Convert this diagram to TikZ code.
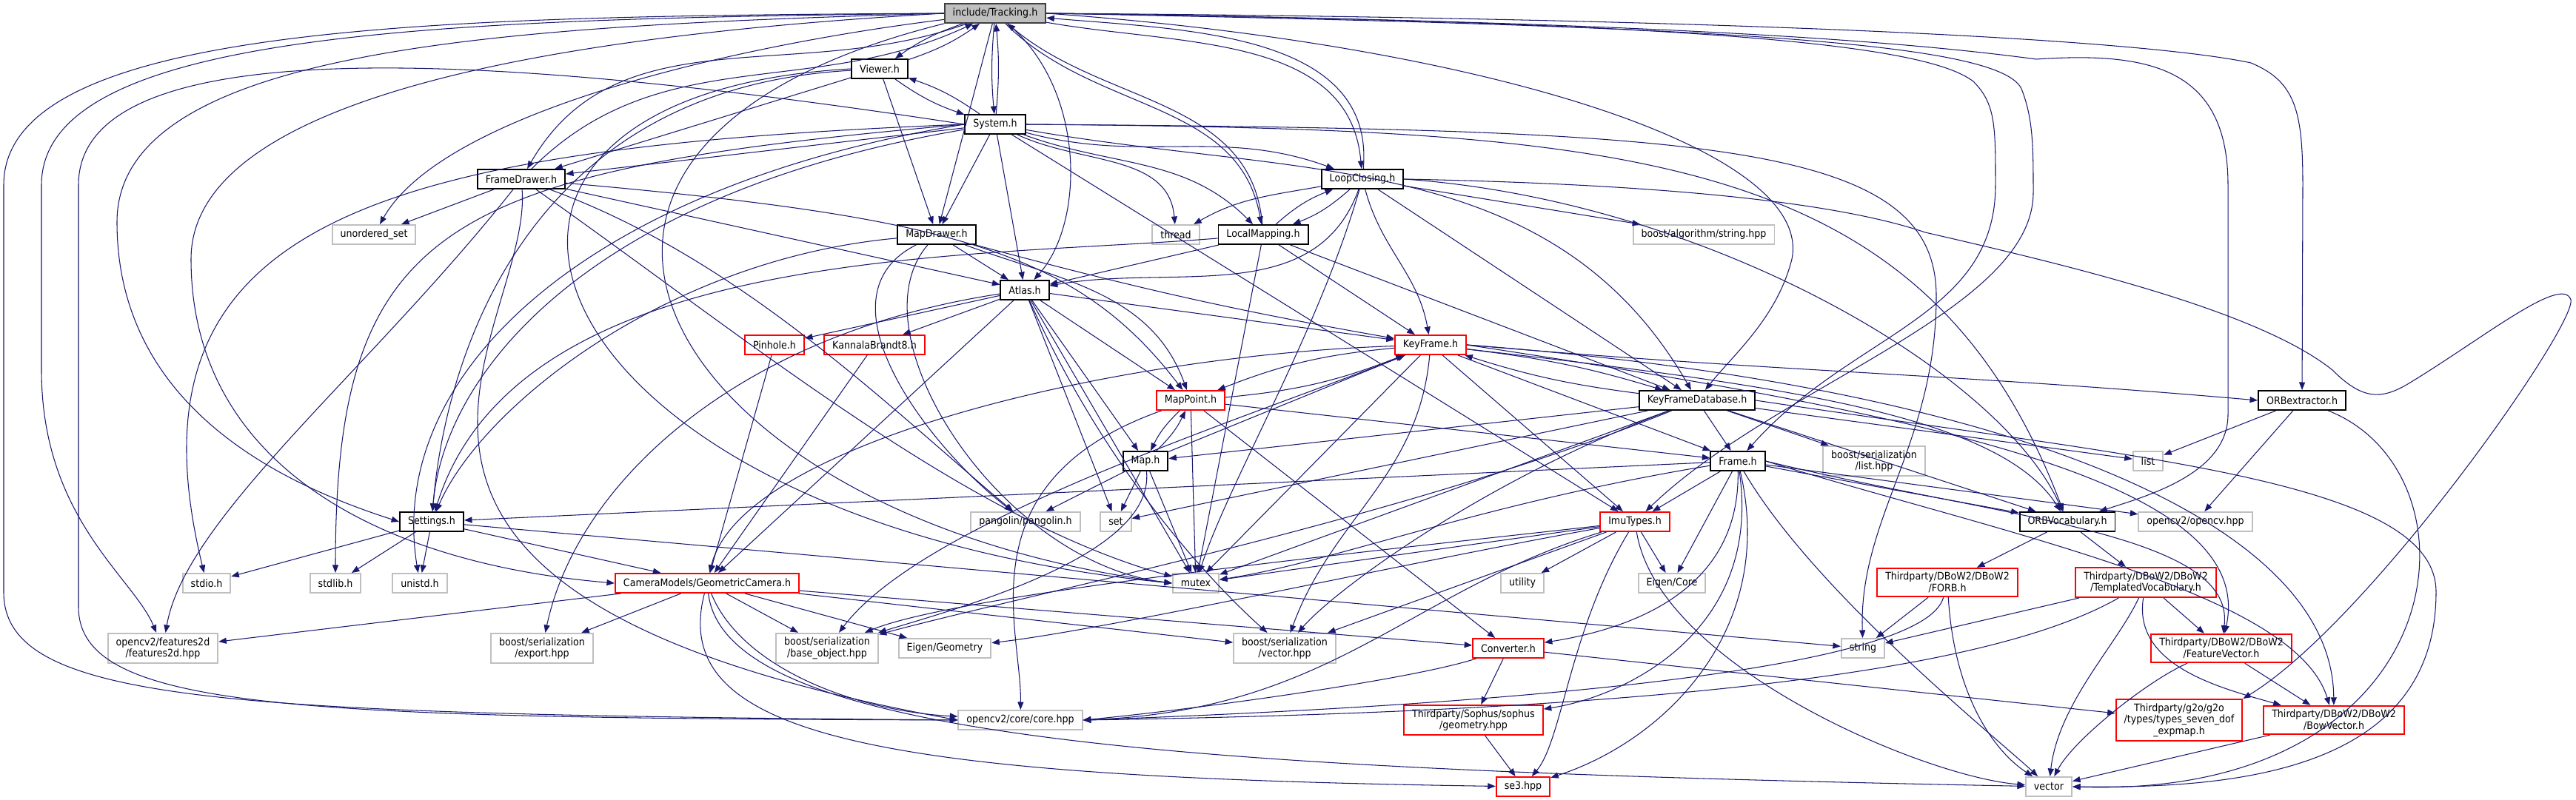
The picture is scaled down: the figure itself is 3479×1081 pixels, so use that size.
\documentclass[tikz,border=0pt]{standalone}
\usepackage{fontspec}
\setmainfont{DejaVu Sans Condensed}
\usetikzlibrary{arrows.meta}
\definecolor{ink}{RGB}{25,25,112}
\definecolor{lgray}{RGB}{191,191,191}
\definecolor{dgray}{RGB}{64,64,64}
\definecolor{tred}{RGB}{255,0,0}
\tikzset{
  hf/.style={draw=black,fill=white,line width=1.1pt,minimum height=0.52cm,inner xsep=0.22cm,inner ysep=0.11cm,align=center,font=\fontsize{8}{8.8}\selectfont},
  hroot/.style={hf,draw=dgray,fill=lgray},
  hext/.style={hf,draw=lgray},
  hred/.style={hf,draw=tred},
  inc/.style={->,draw=ink,line width=0.6pt},
}
\begin{document}
\begin{tikzpicture}[x=0.02cm,y=-0.02cm,>={Triangle[length=6pt,width=4.6pt]}]
\useasboundingbox (0,0) rectangle (3479,1081);
% files
\node[hroot] (trk) at (1344,18) {include/Tracking.h};
\node[hf] (vwr) at (1188,93) {Viewer.h};
\node[hf] (sys) at (1344,168) {System.h};
\node[hf] (fdr) at (704,242) {FrameDrawer.h};
\node[hf] (lcl) at (1840,242) {LoopClosing.h};
\node[hext] (uset) at (505,317) {unordered\_set};
\node[hf] (mdr) at (1265,317) {MapDrawer.h};
\node[hext] (thr) at (1588,317) {thread};
\node[hf] (lmp) at (1706,317) {LocalMapping.h};
\node[hext] (bstr) at (2301,317) {boost/algorithm/string.hpp};
\node[hf] (atl) at (1384,392) {Atlas.h};
\node[hred] (pin) at (1046,466) {Pinhole.h};
\node[hred] (kb8) at (1181,466) {KannalaBrandt8.h};
\node[hred] (kfr) at (1932,466) {KeyFrame.h};
\node[hred] (mpt) at (1608,541) {MapPoint.h};
\node[hf] (kdb) at (2292,541) {KeyFrameDatabase.h};
\node[hf] (orbx) at (3109,541) {ORBextractor.h};
\node[hf] (map) at (1547,623) {Map.h};
\node[hf] (frm) at (2347,623) {Frame.h};
\node[hext] (blst) at (2531,623) {boost/serialization\\/list.hpp};
\node[hext] (lst) at (2901,623) {list};
\node[hf] (stg) at (583,705) {Settings.h};
\node[hext] (pgl) at (1385,705) {pangolin/pangolin.h};
\node[hext] (sset) at (1507,705) {set};
\node[hred] (imu) at (2208,705) {ImuTypes.h};
\node[hf] (voc) at (2792,705) {ORBVocabulary.h};
\node[hext] (ocv) at (2965,705) {opencv2/opencv.hpp};
\node[hext] (sio) at (279,788) {stdio.h};
\node[hext] (slb) at (453,788) {stdlib.h};
\node[hext] (uni) at (567,788) {unistd.h};
\node[hred] (gcam) at (955,788) {CameraModels/GeometricCamera.h};
\node[hext] (mtx) at (1615,788) {mutex};
\node[hext] (utl) at (2056,788) {utility};
\node[hext] (ecore) at (2258,788) {Eigen/Core};
\node[hred] (forb) at (2630,787) {Thirdparty/DBoW2/DBoW2\\/FORB.h};
\node[hred] (tvoc) at (2898,787) {Thirdparty/DBoW2/DBoW2\\/TemplatedVocabulary.h};
\node[hext] (f2d) at (220,876) {opencv2/features2d\\/features2d.hpp};
\node[hext] (bexp) at (732,876) {boost/serialization\\/export.hpp};
\node[hext] (bbase) at (1117,876) {boost/serialization\\/base\_object.hpp};
\node[hext] (egeo) at (1276,876) {Eigen/Geometry};
\node[hext] (bvec) at (1735,876) {boost/serialization\\/vector.hpp};
\node[hred] (cnv) at (2037,876) {Converter.h};
\node[hext] (str) at (2516,876) {string};
\node[hred] (fvec) at (3000,876) {Thirdparty/DBoW2/DBoW2\\/FeatureVector.h};
\node[hext] (core) at (1378,973) {opencv2/core/core.hpp};
\node[hred] (soph) at (1990,973) {Thirdparty/Sophus/sophus\\/geometry.hpp};
\node[hred] (g2o) at (2943,973) {Thirdparty/g2o/g2o\\/types/types\_seven\_dof\\\_expmap.h};
\node[hred] (bow) at (3152,973) {Thirdparty/DBoW2/DBoW2\\/BowVector.h};
\node[hred] (se3) at (2057,1063) {se3.hpp};
\node[hext] (vec) at (2767,1063) {vector};
% Tracking.h
\draw[inc] (trk) to[bend right=8] (vwr);
\draw[inc] (vwr) to[bend right=8] (trk);
\draw[inc] (trk) to[bend right=5] (sys);
\draw[inc] (sys) to[bend right=5] (trk);
\draw[inc] (trk) to[out=200,in=60] (fdr);
\draw[inc] (fdr) to[out=45,in=205] (trk);
\draw[inc] (trk) -- (mdr);
\draw[inc] (trk) .. controls (1466,120) and (1466,300) .. (atl);
\draw[inc] (trk) to[out=-45,in=100] (lmp);
\draw[inc] (lmp) to[out=95,in=-40] (trk);
\draw[inc] (trk) to[out=-10,in=95] (lcl);
\draw[inc] (lcl) to[out=85,in=-5] (trk);
\draw[inc] (trk) .. controls (1000,60) and (600,150) .. (uset);
\draw[inc] (trk.east) .. controls (2000,60) and (2450,200) .. (2420,350) .. controls (2400,430) and (2340,480) .. (kdb);
\draw[inc] (trk.east) .. controls (2300,30) and (2600,60) .. (2665,110) .. controls (2695,140) and (2695,170) .. (2695,250) .. controls (2695,430) and (2500,450) .. (frm);
\draw[inc] (trk.east) .. controls (2300,35) and (2700,55) .. (2730,120) .. controls (2746,160) and (2746,200) .. (2746,260) .. controls (2746,420) and (2400,520) .. (imu);
\draw[inc] (trk.east) .. controls (2300,30) and (2600,60) .. (2750,80) .. controls (2900,70) and (3009,90) .. (3009,250) -- (3009,560) .. controls (3009,640) and (2900,670) .. (voc);
\draw[inc] (trk.east) .. controls (2400,25) and (2900,55) .. (3040,85) .. controls (3100,110) and (3110,150) .. (3110,250) -- (orbx);
\draw[inc] (trk.west) .. controls (600,22) and (5,30) .. (5,250) -- (5,800) .. controls (5,950) and (300,965) .. (core.west);
\draw[inc] (trk.west) .. controls (600,26) and (56,40) .. (56,250) -- (56,500) .. controls (56,700) and (180,780) .. (f2d);
\draw[inc] (trk.west) .. controls (700,35) and (158,60) .. (158,300) .. controls (158,560) and (400,660) .. (stg.west);
\draw[inc] (trk.west) .. controls (900,40) and (258,100) .. (258,350) .. controls (258,620) and (500,760) .. (gcam.west);
\draw[inc] (trk.south west) .. controls (600,200) and (900,700) .. (mtx.west);
% Viewer.h
\draw[inc] (vwr) to[bend right=8] (sys);
\draw[inc] (sys) to[bend right=8] (vwr);
\draw[inc] (vwr) -- (fdr);
\draw[inc] (vwr) -- (mdr);
\draw[inc] (vwr) .. controls (700,120) and (600,500) .. (stg);
\draw[inc] (vwr.west) .. controls (500,130) and (700,700) .. (mtx.west);
% System.h
\draw[inc] (sys) -- (fdr);
\draw[inc] (sys) -- (mdr);
\draw[inc] (sys) -- (atl);
\draw[inc] (sys) to[out=-15,in=160] (lcl);
\draw[inc] (sys) to[out=-20,in=135] (lmp);
\draw[inc] (sys) to[out=-25,in=95] (thr);
\draw[inc] (sys) to[out=-10,in=120] (kdb);
\draw[inc] (sys) -- (imu);
\draw[inc] (sys.east) .. controls (2200,175) and (2600,200) .. (voc);
\draw[inc] (sys.east) .. controls (2300,175) and (2615,190) .. (2615,400) .. controls (2615,600) and (2510,700) .. (str);
\draw[inc] (sys.west) .. controls (600,60) and (106,50) .. (106,250) -- (106,820) .. controls (106,960) and (400,970) .. (core.west);
\draw[inc] (sys.west) .. controls (500,200) and (160,300) .. (sio);
\draw[inc] (sys.west) .. controls (600,230) and (453,300) .. (slb);
\draw[inc] (sys.west) .. controls (800,250) and (520,500) .. (uni);
\draw[inc] (sys) .. controls (800,260) and (600,500) .. (stg);
% FrameDrawer.h
\draw[inc] (fdr) -- (uset);
\draw[inc] (fdr) -- (atl);
\draw[inc] (fdr) .. controls (1282,293) and (1454,339) .. (mpt);
\draw[inc] (fdr) .. controls (720,450) and (350,800) .. (core.west);
\draw[inc] (fdr) .. controls (500,500) and (250,700) .. (f2d);
\draw[inc] (fdr) .. controls (1000,350) and (1200,550) .. (pgl);
\draw[inc] (fdr) .. controls (1000,450) and (1300,700) .. (mtx);
% MapDrawer.h
\draw[inc] (mdr) -- (atl);
\draw[inc] (mdr) to[out=-20,in=110] (mpt);
\draw[inc] (mdr) to[out=-15,in=170] (kfr);
\draw[inc] (mdr) .. controls (900,350) and (650,550) .. (stg);
\draw[inc] (mdr) .. controls (1100,400) and (1250,600) .. (pgl);
\draw[inc] (mdr) .. controls (1150,450) and (1350,760) .. (mtx.west);
% LoopClosing.h
\draw[inc] (lcl) to[bend left=10] (lmp);
\draw[inc] (lmp) to[bend left=10] (lcl);
\draw[inc] (lcl) to[out=190,in=30] (thr);
\draw[inc] (lcl) to[out=-110,in=10] (atl);
\draw[inc] (lcl) to[out=-75,in=100] (kfr);
\draw[inc] (lcl) -- (kdb);
\draw[inc] (lcl) -- (bstr);
\draw[inc] (lcl.east) .. controls (2300,270) and (2700,500) .. (voc);
\draw[inc] (lcl) .. controls (1780,450) and (1660,650) .. (mtx);
\draw[inc] (lcl.east) .. controls (2300,250) and (2500,280) .. (2600,314) .. controls (2800,360) and (3050,420) .. (3150,500) .. controls (3190,540) and (3215,540) .. (3250,520) .. controls (3350,460) and (3460,370) .. (3472,405) .. controls (3480,440) and (3200,840) .. (g2o.north east);
% LocalMapping.h
\draw[inc] (lmp) -- (atl);
\draw[inc] (lmp) -- (kfr);
\draw[inc] (lmp) -- (kdb);
\draw[inc] (lmp) .. controls (1300,350) and (700,330) .. (stg);
\draw[inc] (lmp) -- (mtx);
% Atlas.h
\draw[inc] (atl) -- (pin);
\draw[inc] (atl) -- (kb8);
\draw[inc] (atl) -- (gcam);
\draw[inc] (atl) -- (map);
\draw[inc] (atl) -- (mpt);
\draw[inc] (atl) -- (kfr);
\draw[inc] (atl) -- (sset);
\draw[inc] (atl) -- (mtx);
\draw[inc] (atl) .. controls (1000,450) and (780,650) .. (bexp);
\draw[inc] (atl) .. controls (1500,650) and (1650,800) .. (bvec);
\draw[inc] (pin) -- (gcam);
\draw[inc] (kb8) -- (gcam);
% KeyFrame.h
\draw[inc] (kfr) to[bend right=8] (mpt);
\draw[inc] (mpt) to[bend right=8] (kfr);
\draw[inc] (kfr) to[bend left=5] (kdb);
\draw[inc] (kdb) to[bend left=5] (kfr);
\draw[inc] (kfr) -- (frm);
\draw[inc] (kfr) -- (imu);
\draw[inc] (kfr) .. controls (2400,520) and (2700,560) .. (voc);
\draw[inc] (kfr.east) to[out=-5,in=175] (orbx.west);
\draw[inc] (kfr.east) .. controls (2700,520) and (3150,700) .. (bow);
\draw[inc] (kfr.east) .. controls (2600,560) and (3050,650) .. (fvec);
\draw[inc] (kfr) .. controls (1500,480) and (1000,600) .. (gcam);
\draw[inc] (kfr) -- (mtx);
\draw[inc] (kfr) .. controls (1700,560) and (1250,700) .. (bbase);
\draw[inc] (kfr) to[out=-95,in=70] (bvec);
% MapPoint.h
\draw[inc] (mpt) to[bend right=10] (map);
\draw[inc] (map) to[bend right=10] (mpt);
\draw[inc] (mpt) -- (frm);
\draw[inc] (mpt) -- (cnv);
\draw[inc] (mpt) -- (mtx);
\draw[inc] (mpt) .. controls (1300,650) and (1380,850) .. (core);
% Map.h
\draw[inc] (map) -- (kfr);
\draw[inc] (map) -- (pgl);
\draw[inc] (map) -- (sset);
\draw[inc] (map) -- (mtx);
\draw[inc] (map) .. controls (1560,750) and (1300,820) .. (bbase);
% KeyFrameDatabase.h
\draw[inc] (kdb) -- (frm);
\draw[inc] (kdb) -- (map);
\draw[inc] (kdb) -- (blst);
\draw[inc] (kdb) -- (lst);
\draw[inc] (kdb) -- (sset);
\draw[inc] (kdb) -- (voc);
\draw[inc] (kdb) -- (mtx);
\draw[inc] (kdb) .. controls (1900,700) and (1400,800) .. (bbase);
\draw[inc] (kdb) .. controls (2000,650) and (1800,800) .. (bvec);
\draw[inc] (kdb.east) .. controls (2900,620) and (3290,650) .. (3290,800) .. controls (3290,1050) and (3000,1065) .. (vec.east);
% Frame.h
\draw[inc] (frm) -- (imu);
\draw[inc] (frm) -- (ecore);
\draw[inc] (frm) .. controls (2350,800) and (2200,850) .. (cnv);
\draw[inc] (frm) -- (stg);
\draw[inc] (frm) .. controls (2000,680) and (1800,760) .. (mtx);
\draw[inc] (frm) .. controls (2380,850) and (2200,940) .. (soph);
\draw[inc] (frm) .. controls (2400,850) and (2250,1000) .. (se3);
\draw[inc] (frm) .. controls (2450,800) and (2700,1000) .. (vec);
\draw[inc] (frm) -- (voc);
\draw[inc] (frm) -- (ocv);
\draw[inc] (frm.east) .. controls (2700,720) and (3100,800) .. (bow);
\draw[inc] (frm.east) .. controls (2700,700) and (3020,720) .. (fvec);
% ImuTypes.h
\draw[inc] (imu) -- (utl);
\draw[inc] (imu) -- (ecore);
\draw[inc] (imu) -- (mtx);
\draw[inc] (imu) .. controls (1900,800) and (1800,960) .. (core.east);
\draw[inc] (imu) .. controls (2120,850) and (2110,1000) .. (se3);
\draw[inc] (imu) .. controls (2240,900) and (2600,1050) .. (vec);
\draw[inc] (imu) -- (bvec);
\draw[inc] (imu) .. controls (1900,740) and (1300,800) .. (bbase);
\draw[inc] (imu) .. controls (1900,760) and (1500,850) .. (egeo);
% Settings.h
\draw[inc] (stg) -- (sio);
\draw[inc] (stg) -- (slb);
\draw[inc] (stg) -- (uni);
\draw[inc] (stg) -- (gcam);
\draw[inc] (stg) -- (str);
% GeometricCamera.h
\draw[inc] (gcam) -- (f2d);
\draw[inc] (gcam) -- (bexp);
\draw[inc] (gcam) -- (bbase);
\draw[inc] (gcam) -- (egeo);
\draw[inc] (gcam) -- (bvec);
\draw[inc] (gcam) -- (cnv);
\draw[inc] (gcam) .. controls (1000,900) and (1150,960) .. (core);
\draw[inc] (gcam) .. controls (900,1000) and (1200,1050) .. (se3);
\draw[inc] (gcam) .. controls (980,1000) and (1600,1040) .. (vec);
% ORBextractor.h, vocabulary
\draw[inc] (orbx) -- (lst);
\draw[inc] (orbx) -- (ocv);
\draw[inc] (orbx) .. controls (3360,640) and (3320,1080) .. (vec.east);
\draw[inc] (voc) -- (forb);
\draw[inc] (voc) -- (tvoc);
\draw[inc] (forb) -- (str);
\draw[inc] (forb) .. controls (2600,900) and (2100,950) .. (core.east);
\draw[inc] (forb) .. controls (2640,950) and (2700,1020) .. (vec);
\draw[inc] (tvoc) -- (str);
\draw[inc] (tvoc) .. controls (2700,900) and (2300,960) .. (core.east);
\draw[inc] (tvoc) .. controls (2860,870) and (2780,950) .. (vec);
\draw[inc] (tvoc) -- (fvec);
\draw[inc] (tvoc) .. controls (2880,900) and (3000,930) .. (bow);
\draw[inc] (fvec) -- (bow);
\draw[inc] (fvec) .. controls (2900,920) and (2800,1000) .. (vec);
\draw[inc] (bow) -- (vec);
% Converter.h
\draw[inc] (cnv) .. controls (1900,920) and (1600,960) .. (core.east);
\draw[inc] (cnv) -- (soph);
\draw[inc] (cnv) -- (g2o);
\draw[inc] (soph) -- (se3);
\end{tikzpicture}
\end{document}
